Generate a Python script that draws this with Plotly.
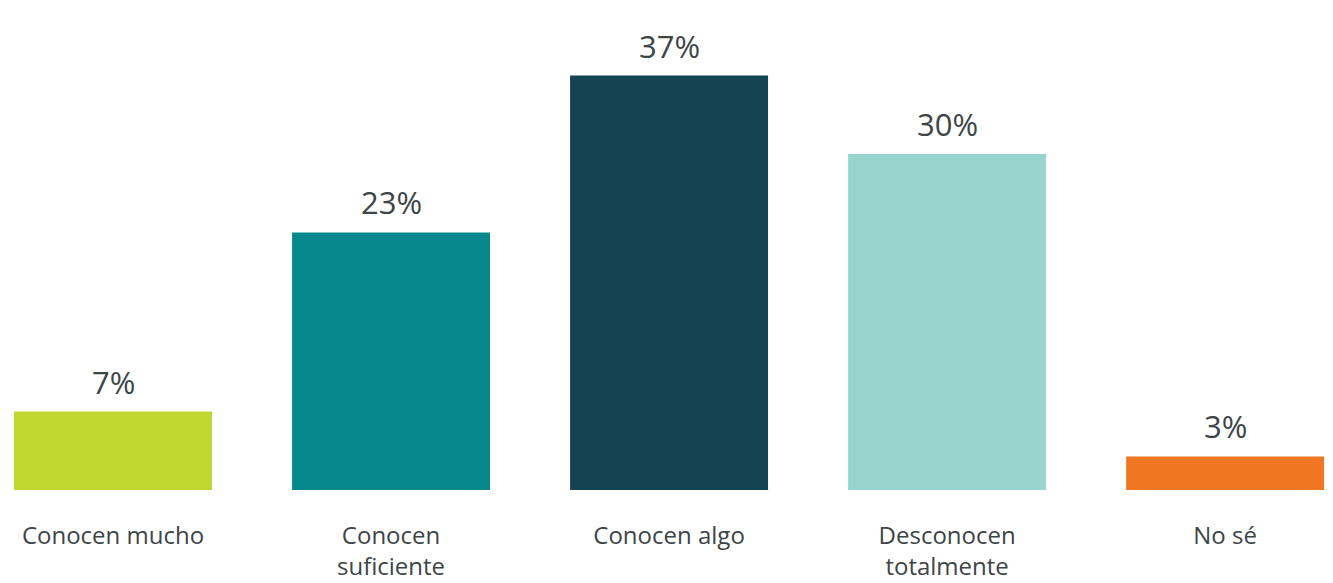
import plotly.graph_objects as go

categories = ["Conocen mucho", "Conocen suficiente", "Conocen algo", "Desconocen totalmente", "No sé"]
tick_labels = ["Conocen mucho", "Conocen<br>suficiente", "Conocen algo", "Desconocen<br>totalmente", "No sé"]
values = [7, 23, 37, 30, 3]
colors = ["#bfd730", "#07888c", "#13444f", "#98d5ce", "#f07622"]

FONT = "Open Sans"
TEXT_COLOR = "#3d4547"

fig = go.Figure(
    go.Bar(
        x=categories,
        y=values,
        marker=dict(color=colors, line=dict(width=0)),
        width=0.712,
        hoverinfo="skip",
    )
)

# value labels above each bar
for cat, v in zip(categories, values):
    fig.add_annotation(
        x=cat, y=v, text=f"{v}%", showarrow=False,
        yanchor="bottom", yshift=7,
        font=dict(family=FONT, size=31, color=TEXT_COLOR),
    )

fig.update_layout(
    width=1333, height=583,
    margin=dict(l=0, r=0, t=0, b=93),
    plot_bgcolor="white", paper_bgcolor="white",
    showlegend=False,
    xaxis=dict(
        type="category",
        range=[-0.4065, 4.388],
        tickmode="array", tickvals=categories, ticktext=tick_labels,
        tickfont=dict(family=FONT, size=24, color=TEXT_COLOR),
        ticks="", showline=False, showgrid=False, zeroline=False,
        ticklabelstandoff=29,
    ),
    yaxis=dict(
        range=[0, 43.75], visible=False, showgrid=False, zeroline=False,
    ),
)

fig.write_html("out.html")
